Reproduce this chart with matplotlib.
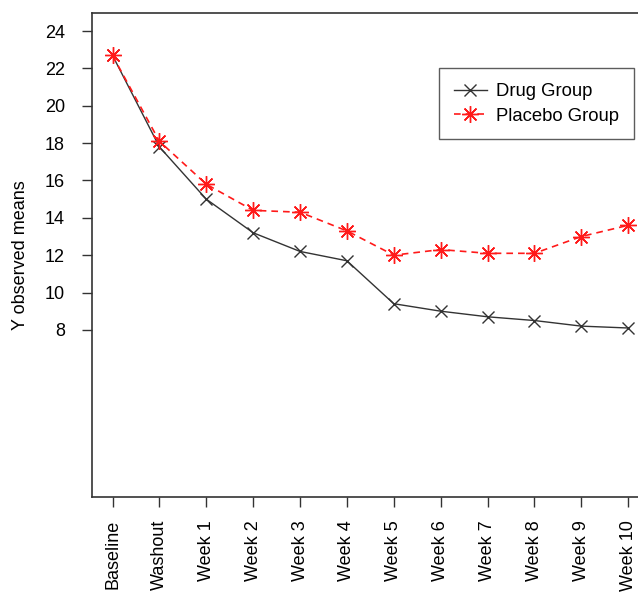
from __future__ import annotations

import matplotlib

matplotlib.use("Agg")
import matplotlib.pyplot as plt
import numpy as np

VISITS = [
    "Baseline", "Washout", "Week 1", "Week 2", "Week 3", "Week 4",
    "Week 5", "Week 6", "Week 7", "Week 8", "Week 9", "Week 10",
]
DRUG_MEANS = [22.7, 17.8, 15.0, 13.2, 12.2, 11.7, 9.4, 9.0, 8.7, 8.5, 8.2, 8.1]
PLACEBO_MEANS = [22.7, 18.1, 15.8, 14.4, 14.3, 13.3, 12.0, 12.3, 12.1, 12.1, 13.0, 13.6]
Y_TICKS = list(range(8, 25, 2))


def plot_observed_means(path: str) -> None:
    """Save the observed-means profile plot for both groups."""

    plt.rcParams["font.family"] = ["Liberation Sans", "DejaVu Sans"]
    fig = plt.figure(figsize=(6.38, 5.99), dpi=100)
    ax = fig.add_axes([0.144, 0.170, 0.873, 0.808])

    x = np.arange(len(VISITS))
    ax.plot(
        x, DRUG_MEANS, color="#333333", linewidth=1.0,
        marker="x", markersize=8, markeredgewidth=1.0, label="Drug Group",
    )
    ax.plot(
        x, PLACEBO_MEANS, color="#ff1a1a", linewidth=1.2, linestyle=(0, (4, 3)),
        marker=(8, 2, 0), markersize=12, markeredgewidth=1.0, label="Placebo Group",
    )

    ax.set_xlim(-0.44, len(VISITS) - 1 + 0.44)
    ax.set_ylim(-0.96, 24.96)
    ax.set_xticks(x)
    ax.set_xticklabels(VISITS, rotation=90, fontsize=13)
    ax.set_yticks(Y_TICKS)
    ax.set_yticklabels([str(v) for v in Y_TICKS], fontsize=13)
    ax.tick_params(axis="both", length=7.5, width=1.0, color="#333333")
    ax.tick_params(axis="y", pad=12)
    ax.tick_params(axis="x", pad=9)
    ax.set_ylabel("Y observed means", fontsize=13, labelpad=11)

    for spine in ax.spines.values():
        spine.set_linewidth(1.2)
        spine.set_color("#333333")

    legend = ax.legend(
        loc="upper left", bbox_to_anchor=(0.623, 0.886), fontsize=13.3,
        fancybox=False, frameon=True, borderpad=0.8, handlelength=1.8,
        handletextpad=0.5, labelspacing=0.4, borderaxespad=0,
    )
    legend.get_frame().set_edgecolor("#333333")
    legend.get_frame().set_linewidth(1.0)

    fig.savefig(path, dpi=100)
    plt.close(fig)


if __name__ == "__main__":
    plot_observed_means("out.png")
